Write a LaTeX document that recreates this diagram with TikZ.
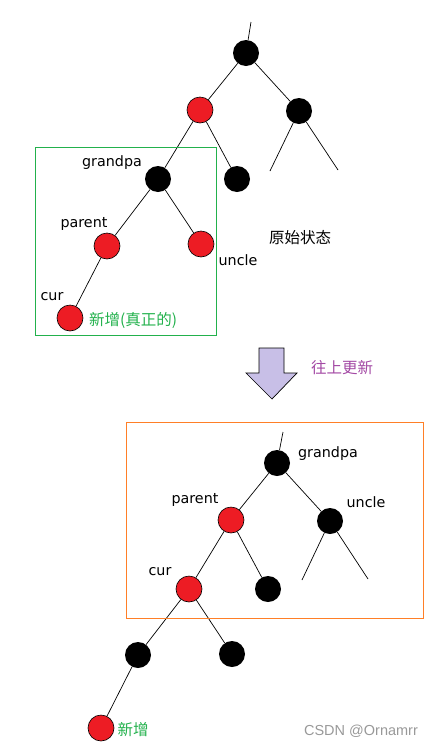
\documentclass[tikz,border=0pt]{standalone}
\usepackage{fontspec}
\setmainfont{DejaVu Sans}
\newfontfamily\cjk{Noto Sans CJK SC}
\newfontfamily\wmfont{Liberation Sans}
\definecolor{rbred}{HTML}{ED1C24}
\definecolor{paintgreen}{HTML}{22B14C}
\definecolor{paintorange}{HTML}{FF7F27}
\definecolor{paintpurple}{HTML}{A349A4}
\definecolor{paintlav}{HTML}{C8BFE7}
\tikzset{
  rednode/.style={circle, draw=black, line width=0.6pt, fill=rbred, minimum size=26pt, inner sep=0pt},
  blacknode/.style={circle, fill=black, minimum size=26pt, inner sep=0pt},
  lbl/.style={inner sep=0pt, font=\fontsize{14.3}{16}\selectfont},
  cjklbl/.style={inner sep=0pt, font=\cjk\fontsize{15.5}{17}\selectfont},
  edge/.style={line width=0.7pt}
}
\begin{document}
\begin{tikzpicture}[x=1pt,y=-1pt]
\useasboundingbox (0,0) rectangle (435,745);
% original state
\node[blacknode] (root) at (246,53) {};
\node[rednode] (a) at (200,110) {};
\node[blacknode] (b) at (299,111) {};
\node[blacknode] (g1) at (158,179) {};
\node[blacknode] (d) at (237,179) {};
\node[rednode] (p1) at (107,246) {};
\node[rednode] (u1) at (201,244) {};
\node[rednode] (c1) at (70,318) {};
\coordinate (rootup) at (251,22);
\coordinate (bl) at (270,171);
\coordinate (br) at (338,170);
\draw[edge] (root) -- (rootup);
\draw[edge] (root) -- (a);
\draw[edge] (root) -- (b);
\draw[edge] (a) -- (g1);
\draw[edge] (a) -- (d);
\draw[edge] (b) -- (bl);
\draw[edge] (b) -- (br);
\draw[edge] (g1) -- (p1);
\draw[edge] (g1) -- (u1);
\draw[edge] (p1) -- (c1);
\draw[paintgreen, line width=0.8pt] (35,147) rectangle (216,335);
\node[lbl] (g1lbl) at (112,163) {grandpa};
\node[lbl] (p1lbl) at (84,224) {parent};
\node[lbl] (u1lbl) at (238,260) {uncle};
\node[lbl] (c1lbl) at (52,297) {cur};
\node[cjklbl, text=paintgreen] (new1) at (133,320) {新增(真正的)};
\node[cjklbl] (orig) at (300,238) {原始状态};
% update arrow
\draw[fill=paintlav, line width=0.7pt] (259,348) -- (284,348) -- (284,373) -- (297,373)
  -- (272,399) -- (246,373) -- (259,373) -- cycle;
\node[cjklbl, text=paintpurple] (upd) at (342,368) {往上更新};
% after update
\node[blacknode] (g2) at (277,463) {};
\node[rednode] (p2) at (231,520) {};
\node[blacknode] (u2) at (330,521) {};
\node[rednode] (c2) at (189,589) {};
\node[blacknode] (e) at (268,589) {};
\node[blacknode] (f) at (138,655) {};
\node[blacknode] (h) at (232,654) {};
\node[rednode] (n2) at (101,728) {};
\coordinate (g2up) at (283,432);
\coordinate (ul) at (302,580);
\coordinate (ur) at (368,579);
\draw[edge] (g2) -- (g2up);
\draw[edge] (g2) -- (p2);
\draw[edge] (g2) -- (u2);
\draw[edge] (p2) -- (c2);
\draw[edge] (p2) -- (e);
\draw[edge] (u2) -- (ul);
\draw[edge] (u2) -- (ur);
\draw[edge] (c2) -- (f);
\draw[edge] (c2) -- (h);
\draw[edge] (f) -- (n2);
\draw[paintorange, line width=0.8pt] (126,422) rectangle (423,618);
\node[lbl] (g2lbl) at (328,454) {grandpa};
\node[lbl] (p2lbl) at (195,500) {parent};
\node[lbl] (u2lbl) at (366,502) {uncle};
\node[lbl] (c2lbl) at (160,572) {cur};
\node[cjklbl, text=paintgreen] (new2) at (133,730) {新增};
\node[inner sep=0pt, text=black!40, font=\wmfont\fontsize{14.5}{16}\selectfont] (wm) at (361,731) {CSDN @Ornamrr};
\end{tikzpicture}
\end{document}
